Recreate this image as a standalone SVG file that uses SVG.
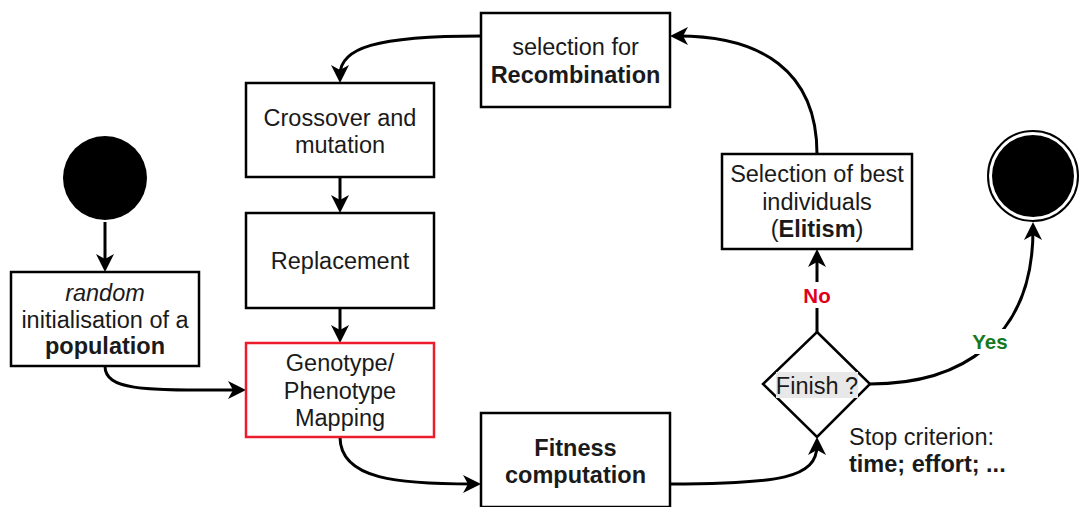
<svg xmlns="http://www.w3.org/2000/svg" width="1079" height="507" viewBox="0 0 1079 507">
  <style>
    .box { fill: #ffffff; stroke: #000000; stroke-width: 2.5; }
    .hl { stroke: #ec1c2c; }
    .lbl { font-family: "Liberation Sans", Arial, sans-serif; font-size: 23.5px; fill: #1a1a1a; text-anchor: middle; }
    .note { font-family: "Liberation Sans", Arial, sans-serif; font-size: 23.5px; fill: #1a1a1a; text-anchor: start; }
    .b { font-weight: bold; }
    .edge { fill: none; stroke: #000000; stroke-width: 3; marker-end: url(#arrow); }
    .tag { font-family: "Liberation Sans", Arial, sans-serif; font-size: 20.5px; font-weight: bold; text-anchor: middle; }
  </style>
  <defs>
    <marker id="arrow" markerUnits="userSpaceOnUse" markerWidth="18" markerHeight="18" refX="10" refY="9" orient="auto">
      <path d="M0,0 L18,9 L0,18 L5,9 Z" fill="#000000"/>
    </marker>
  </defs>

  <rect width="1079" height="507" fill="#ffffff"/>

  <!-- connectors -->
  <g id="connectors">
    <path class="edge" d="M105 222 L105 264"/>
    <path class="edge" d="M105 366 C 105 392, 150 390, 238 390"/>
    <path class="edge" d="M481 36 C 375 36, 340 48, 340 75"/>
    <path class="edge" d="M340 177 L340 205"/>
    <path class="edge" d="M340 308 L340 335"/>
    <path class="edge" d="M340 437 C 340 480, 400 484, 473 484"/>
    <path class="edge" d="M670 484 C 780 484, 817 478, 817 445"/>
    <path class="edge" d="M817 332 L817 257"/>
    <path class="edge" d="M817 154 C 817 70, 760 36, 678 36"/>
    <path class="edge" d="M870 384 C 960 384, 1033 340, 1033 230"/>
    <!-- branch labels -->
    <rect x="801" y="282" width="32" height="26" fill="#ffffff"/>
    <text class="tag" x="817" y="302.5" fill="#e0001b">No</text>
    <rect x="968" y="329" width="44" height="25" fill="#ffffff"/>
    <text class="tag" x="990" y="349" fill="#157a1d">Yes</text>
  </g>

  <!-- start node -->
  <g id="start">
    <circle cx="105" cy="178" r="42" fill="#000000"/>
  </g>

  <!-- end node -->
  <g id="end">
    <circle cx="1033" cy="176" r="45" fill="#ffffff" stroke="#000000" stroke-width="2"/>
    <circle cx="1033" cy="176" r="41" fill="#000000"/>
  </g>

  <g id="init">
    <rect class="box" x="11" y="272" width="188" height="94"/>
    <text class="lbl" x="105" y="300.5" font-style="italic">random</text>
    <text class="lbl" x="105" y="327.5">initialisation of a</text>
    <text class="lbl b" x="105" y="354">population</text>
  </g>

  <g id="recombination">
    <rect class="box" x="481" y="13" width="189" height="94"/>
    <text class="lbl" x="575.5" y="55">selection for</text>
    <text class="lbl b" x="575.5" y="82.5">Recombination</text>
  </g>

  <g id="crossover">
    <rect class="box" x="246" y="83" width="188" height="94"/>
    <text class="lbl" x="340" y="125.5">Crossover and</text>
    <text class="lbl" x="340" y="153">mutation</text>
  </g>

  <g id="replacement">
    <rect class="box" x="246" y="213" width="188" height="95"/>
    <text class="lbl" x="340" y="269">Replacement</text>
  </g>

  <g id="mapping">
    <rect class="box hl" x="246" y="343" width="188" height="94"/>
    <text class="lbl" x="340" y="371">Genotype/</text>
    <text class="lbl" x="340" y="398.5">Phenotype</text>
    <text class="lbl" x="340" y="426">Mapping</text>
  </g>

  <g id="fitness">
    <rect class="box" x="481" y="413" width="189" height="94"/>
    <text class="lbl b" x="575.5" y="455.5">Fitness</text>
    <text class="lbl b" x="575.5" y="483">computation</text>
  </g>

  <g id="elitism">
    <rect class="box" x="722" y="154" width="190" height="95"/>
    <text class="lbl" x="817" y="182">Selection of best</text>
    <text class="lbl" x="817" y="209.5">individuals</text>
    <text class="lbl" x="817" y="237">(<tspan class="b">Elitism</tspan>)</text>
  </g>

  <g id="finish">
    <polygon class="box" points="817,332 870,384 817,437 763,384"/>
    <rect x="776" y="372" width="82" height="26" fill="#e8e8e8"/>
    <text class="lbl" x="817" y="393.5">Finish ?</text>
  </g>

  <g id="stop-note">
    <text class="note" x="849" y="444.5">Stop criterion:</text>
    <text class="note b" x="849" y="472">time; effort; ...</text>
  </g>
</svg>
